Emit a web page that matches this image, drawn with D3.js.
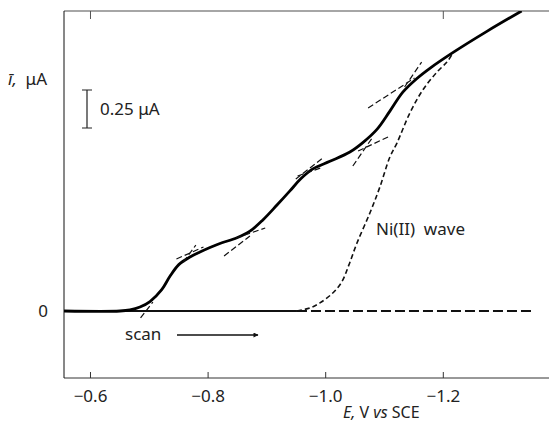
<!DOCTYPE html>
<html lang="en">
<head>
	<meta charset="UTF-8">
	<title>Polarogram with Ni(II) wave</title>
	<script src="https://cdn.jsdelivr.net/npm/d3@7"></script>
	<style>
		body { margin: 0; background: #fff; }
		text { font-family: "Noto Sans", "Open Sans", sans-serif; fill: #222; }
	</style>
</head>
<body>
	<div id="container"></div>
	<script>
		// potentials in V vs SCE, currents in uA
		var xTicks = [-0.6, -0.8, -1.0, -1.2];
		var yTicks = [0];

		var mainE = [-0.556, -0.651, -0.668, -0.685, -0.702, -0.722, -0.736, -0.751, -0.770, -0.787,
			-0.804, -0.821, -0.850, -0.872, -0.894, -0.918, -0.940, -0.958, -0.979, -1.008,
			-1.042, -1.064, -1.088, -1.110, -1.132, -1.156, -1.178, -1.217, -1.275, -1.334];
		var mainI = [0, 0, 0.007, 0.026, 0.062, 0.140, 0.228, 0.305, 0.355, 0.388,
			0.418, 0.444, 0.482, 0.525, 0.599, 0.697, 0.790, 0.868, 0.935, 0.985,
			1.046, 1.108, 1.195, 1.315, 1.440, 1.530, 1.597, 1.700, 1.840, 1.974];

		var niE = [-0.952, -0.974, -0.991, -1.012, -1.028, -1.040, -1.054, -1.076, -1.093, -1.110, -1.122,
			-1.144, -1.166, -1.190, -1.207, -1.215];
		var niI = [0, 0.020, 0.053, 0.115, 0.190, 0.300, 0.447, 0.645, 0.816, 1.013, 1.105,
			1.303, 1.454, 1.572, 1.638, 1.684];

		var baseSolidE = [-0.556, -0.952];
		var baseDashE = [-0.952, -1.351];

		// construction tangents: [E1, i1, E2, i2]
		var tangents = [
			[-0.686, -0.046, -0.707, 0.059],
			[-0.747, 0.342, -0.793, 0.421],
			[-0.759, 0.322, -0.780, 0.434],
			[-0.828, 0.362, -0.872, 0.493],
			[-0.848, 0.480, -0.898, 0.546],
			[-0.950, 0.868, -0.998, 1.013],
			[-0.953, 0.888, -0.992, 0.941],
			[-1.047, 0.954, -1.081, 1.145],
			[-1.056, 1.053, -1.107, 1.145],
			[-1.073, 1.336, -1.152, 1.533],
			[-1.135, 1.474, -1.164, 1.638]
		];

		var scaleBar = 0.25;

		var width = 549, height = 424;
		var svg = d3.select("#container").append("svg")
			.attr("width", width)
			.attr("height", height);

		var x = d3.scaleLinear().domain([-0.5558, -1.3806]).range([64, 549]);
		var y = d3.scaleLinear().domain([-0.441, 1.974]).range([378, 11]);

		svg.append("clipPath").attr("id", "plot")
			.append("rect").attr("x", 64).attr("y", 11).attr("width", 485).attr("height", 367);

		// axes
		svg.append("g")
			.attr("transform", "translate(0,378)")
			.call(d3.axisBottom(x).tickValues(xTicks).tickSize(-6).tickPadding(12).tickFormat(d3.format(".1f")))
			.call(function(g) {
				g.select(".domain").attr("stroke", "#333").attr("d", "M64,0H549");
				g.selectAll(".tick line").attr("stroke", "#333");
				g.selectAll("text").attr("font-size", 17).attr("fill", "#222").attr("font-family", "Noto Sans");
			});

		svg.append("g")
			.attr("transform", "translate(0,11)")
			.call(d3.axisTop(x).tickValues([-0.6, -1.2]).tickSize(-8).tickFormat(""))
			.call(function(g) {
				g.select(".domain").attr("stroke", "#888").attr("stroke-width", 1.5).attr("d", "M64,0H549");
				g.selectAll(".tick line").attr("stroke", "#555");
			});

		svg.append("g")
			.attr("transform", "translate(64,0)")
			.call(d3.axisLeft(y).tickValues(yTicks).tickSize(0).tickPadding(16).tickFormat(d3.format("d")))
			.call(function(g) {
				g.select(".domain").attr("stroke", "#111").attr("d", "M0,11V378");
				g.selectAll("text").attr("font-size", 17).attr("fill", "#222").attr("font-family", "Noto Sans");
			});

		var plot = svg.append("g").attr("clip-path", "url(#plot)");

		// baseline
		plot.append("line")
			.attr("x1", x(baseSolidE[0])).attr("x2", x(baseSolidE[1]))
			.attr("y1", y(0)).attr("y2", y(0))
			.attr("stroke", "#111").attr("stroke-width", 2);
		plot.append("line")
			.attr("x1", x(baseDashE[0])).attr("x2", x(baseDashE[1]))
			.attr("y1", y(0)).attr("y2", y(0))
			.attr("stroke", "#111").attr("stroke-width", 1.8)
			.attr("stroke-dasharray", "10,4");

		var line = d3.line()
			.x(function(d) { return x(d[0]); })
			.y(function(d) { return y(d[1]); })
			.curve(d3.curveCatmullRom.alpha(0.5));

		plot.append("path")
			.datum(d3.zip(niE, niI))
			.attr("d", line)
			.attr("fill", "none").attr("stroke", "#111").attr("stroke-width", 1.6)
			.attr("stroke-dasharray", "5,3");

		plot.append("path")
			.datum(d3.zip(mainE, mainI))
			.attr("d", line)
			.attr("fill", "none").attr("stroke", "#000").attr("stroke-width", 2.8);

		plot.selectAll(".tangent")
			.data(tangents)
			.enter().append("line")
			.attr("class", "tangent")
			.attr("x1", function(d) { return x(d[0]); })
			.attr("y1", function(d) { return y(d[1]); })
			.attr("x2", function(d) { return x(d[2]); })
			.attr("y2", function(d) { return y(d[3]); })
			.attr("stroke", "#111").attr("stroke-width", 1.2)
			.attr("stroke-dasharray", "6,3");

		// scale bar
		var barX = 87, barTop = 90;
		var barLen = y(0) - y(scaleBar);
		svg.append("path")
			.attr("d", "M" + barX + "," + barTop + "V" + (barTop + barLen)
				+ "M" + (barX - 5) + "," + barTop + "H" + (barX + 5)
				+ "M" + (barX - 5) + "," + (barTop + barLen) + "H" + (barX + 5))
			.attr("stroke", "#222").attr("stroke-width", 1.2).attr("fill", "none");
		svg.append("text")
			.attr("x", 100).attr("y", 115)
			.attr("font-size", 17)
			.attr("xml:space", "preserve")
			.text("0.25 μA");

		// axis titles
		var yl = svg.append("text").attr("x", 8).attr("y", 85).attr("font-size", 17).attr("xml:space", "preserve");
		yl.append("tspan").attr("font-style", "italic").text("ī,");
		yl.append("tspan").text("  μA");

		var xl = svg.append("text").attr("x", 343).attr("y", 418).attr("font-size", 16).attr("xml:space", "preserve");
		xl.append("tspan").attr("font-style", "italic").text("E,");
		xl.append("tspan").text(" V ");
		xl.append("tspan").attr("font-style", "italic").text("vs");
		xl.append("tspan").text(" SCE");

		// annotations
		svg.append("text").attr("x", 376).attr("y", 235).attr("font-size", 17)
			.attr("xml:space", "preserve").text("Ni(II)  wave");
		svg.append("text").attr("x", 125).attr("y", 340).attr("font-size", 17).text("scan");

		svg.append("defs").append("marker")
			.attr("id", "arrow").attr("viewBox", "0 0 10 10")
			.attr("refX", 9).attr("refY", 5)
			.attr("markerWidth", 7).attr("markerHeight", 5).attr("markerUnits", "userSpaceOnUse")
			.attr("orient", "auto")
			.append("path").attr("d", "M0,0L10,5L0,10Z").attr("fill", "#111");
		svg.append("line")
			.attr("x1", 177).attr("x2", 258).attr("y1", 335).attr("y2", 335)
			.attr("stroke", "#111").attr("stroke-width", 1.3)
			.attr("marker-end", "url(#arrow)");
	</script>
</body>
</html>
